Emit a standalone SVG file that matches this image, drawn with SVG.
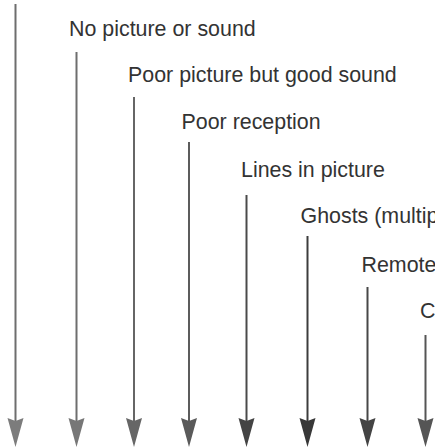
<svg xmlns="http://www.w3.org/2000/svg" width="435" height="448" viewBox="0 0 435 448">
<style>
.lbl{font-family:"Liberation Sans",Arial,sans-serif;font-size:21.4px;fill:#333}
.sh{stroke-width:2;fill:none}
</style>
<rect width="435" height="448" fill="#fff"/>
<g id="connectors">
<g id="a1"><line class="sh" x1="15.5" y1="4" x2="15.5" y2="421" stroke="#6e6e6e"/><path d="M7.5,418 L15.5,421 L23.5,418 L15.5,447 Z" fill="#7c7c7c"/></g>
<g id="a2"><line class="sh" x1="76.5" y1="52" x2="76.5" y2="421" stroke="#6e6e6e"/><path d="M68.5,418 L76.5,421 L84.5,418 L76.5,447 Z" fill="#777"/></g>
<g id="a3"><line class="sh" x1="134" y1="97" x2="134" y2="421" stroke="#666"/><path d="M126,418 L134,421 L142,418 L134,447 Z" fill="#666"/></g>
<g id="a4"><line class="sh" x1="189" y1="142" x2="189" y2="421" stroke="#5c5c5c"/><path d="M181,418 L189,421 L197,418 L189,447 Z" fill="#5a5a5a"/></g>
<g id="a5"><line class="sh" x1="246.5" y1="195" x2="246.5" y2="421" stroke="#4a4a4a"/><path d="M238.5,418 L246.5,421 L254.5,418 L246.5,447 Z" fill="#444"/></g>
<g id="a6"><line class="sh" x1="307.5" y1="236" x2="307.5" y2="421" stroke="#3c3c3c"/><path d="M299.5,418 L307.5,421 L315.5,418 L307.5,447 Z" fill="#383838"/></g>
<g id="a7"><line class="sh" x1="367.5" y1="287" x2="367.5" y2="421" stroke="#474747"/><path d="M359.5,418 L367.5,421 L375.5,418 L367.5,447 Z" fill="#444"/></g>
<g id="a8"><line class="sh" x1="425.5" y1="335" x2="425.5" y2="421" stroke="#555"/><path d="M417.5,418 L425.5,421 L433.5,418 L425.5,447 Z" fill="#555"/></g>
</g>
<g id="n1"><text class="lbl" x="69" y="36">No picture or sound</text></g>
<g id="n2"><text class="lbl" x="128" y="82">Poor picture but good sound</text></g>
<g id="n3"><text class="lbl" x="181.5" y="129">Poor reception</text></g>
<g id="n4"><text class="lbl" x="241" y="177">Lines in picture</text></g>
<g id="n5"><text class="lbl" x="300.5" y="223">Ghosts (multip</text></g>
<g id="n6"><text class="lbl" x="361.5" y="272">Remote</text></g>
<g id="n7"><text class="lbl" x="420" y="318">C</text></g>
</svg>
